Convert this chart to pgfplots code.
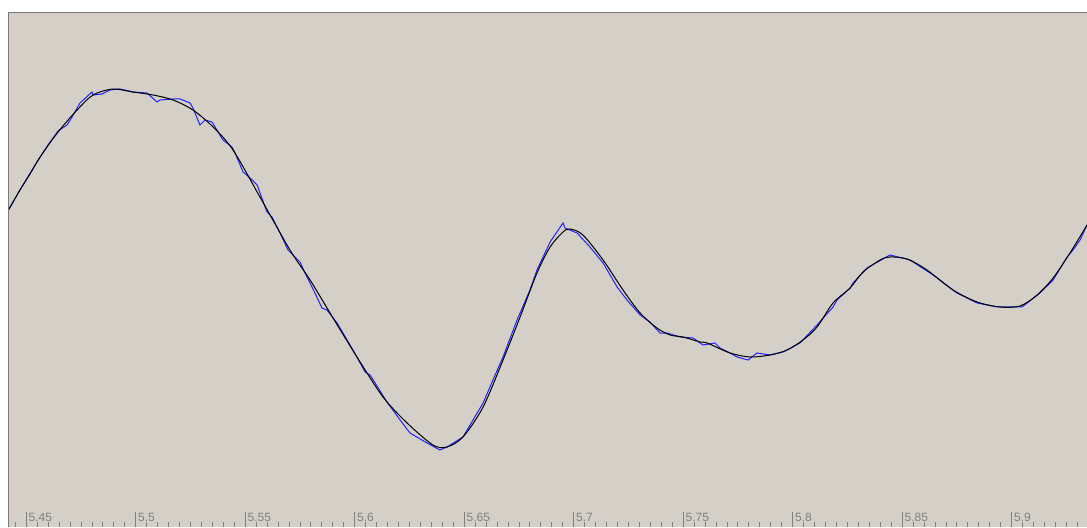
\documentclass[border=0pt]{standalone}
\usepackage{fontspec}
\setmainfont{Liberation Sans}
\usepackage{pgfplots}
\pgfplotsset{compat=1.18}
\definecolor{bgcol}{HTML}{D4D0C8}
\definecolor{tickgray}{HTML}{808080}
\definecolor{bordergray}{HTML}{7A7A7A}
\definecolor{bluel}{HTML}{2020FF}
\begin{document}
\begin{tikzpicture}
\path (0,0) rectangle (815.25pt,395.25pt);
\begin{axis}[
  at={(6pt,0pt)}, anchor=south west,
  scale only axis, width=809.25pt, height=385.5pt,
  xmin=5.44164, xmax=5.93438, ymin=0, ymax=514,
  axis background/.style={fill=bgcol},
  axis line style={draw=none},
  ytick=\empty,
  xtick={5.45,5.5,5.55,5.6,5.65,5.7,5.75,5.8,5.85,5.9},
  xticklabels={5.45,5.5,5.55,5.6,5.65,5.7,5.75,5.8,5.85,5.9},
  minor xtick={5.445,5.450,...,5.935},
  tick align=inside, xtick pos=bottom,
  major tick length=11.25pt, minor tick length=3.75pt,
  major tick style={draw=tickgray, line width=0.75pt},
  minor tick style={draw=tickgray, line width=0.75pt},
  xticklabel style={anchor=base west, inner sep=0pt, xshift=1.6pt, yshift=3.9pt,
    text=tickgray, font=\fontsize{9}{10}\selectfont},
  /pgf/number format/assume math mode=true,
  clip=true,
]
\addplot[bluel, line width=0.75pt] coordinates {
(5.4416,316) (5.4471,337) (5.4540,362) (5.4599,382) (5.4645,396) (5.4686,402)
(5.4709,410) (5.4745,424) (5.4800,435) (5.4805,432) (5.4846,433) (5.4882,437)
(5.4928,438) (5.4987,435) (5.5051,434) (5.5097,425) (5.5111,427) (5.5170,428)
(5.5202,428) (5.5248,424) (5.5261,419) (5.5293,402) (5.5316,407) (5.5348,405)
(5.5362,400) (5.5398,387) (5.5439,380) (5.5453,374) (5.5490,355) (5.5522,349)
(5.5554,342) (5.5599,315) (5.5622,310) (5.5659,294) (5.5695,277) (5.5750,265)
(5.5773,254) (5.5818,234) (5.5850,219) (5.5873,217) (5.5919,204) (5.5946,194)
(5.5992,177) (5.6047,155) (5.6070,152) (5.6147,125) (5.6207,107) (5.6252,94)
(5.6330,84) (5.6389,77) (5.6421,80) (5.6494,90) (5.6586,124) (5.6631,147)
(5.6677,170) (5.6741,207) (5.6755,214) (5.6800,237) (5.6832,257) (5.6892,285)
(5.6951,304) (5.6960,299) (5.7015,294) (5.7074,280) (5.7134,264) (5.7198,240)
(5.7243,227) (5.7303,212) (5.7348,205) (5.7394,194) (5.7426,194) (5.7485,190)
(5.7545,189) (5.7590,182) (5.7645,184) (5.7668,179) (5.7714,174) (5.7746,170)
(5.7796,167) (5.7837,174) (5.7896,172) (5.7956,175) (5.8033,184) (5.8111,202)
(5.8184,220) (5.8202,227) (5.8262,239) (5.8275,244) (5.8339,259) (5.8444,272)
(5.8536,267) (5.8641,252) (5.8750,234) (5.8842,224) (5.8933,220) (5.9047,220)
(5.9129,234) (5.9189,247) (5.9253,270) (5.9280,277) (5.9312,287) (5.9344,302)
};
\addplot[black, line width=0.75pt, smooth, tension=0.5] coordinates {
(5.4416,316) (5.4471,337) (5.4517,353) (5.4563,370) (5.4645,395) (5.4732,417)
(5.4805,432) (5.4896,438) (5.4987,435) (5.5079,432) (5.5170,427) (5.5261,417)
(5.5353,400) (5.5444,377) (5.5567,330) (5.5704,277) (5.5796,247) (5.5887,214)
(5.6010,170) (5.6129,130) (5.6239,104) (5.6357,82) (5.6421,80) (5.6494,90)
(5.6586,120) (5.6677,167) (5.6755,210) (5.6832,254) (5.6892,280) (5.6951,295)
(5.6983,298) (5.7042,292) (5.7134,267) (5.7225,237) (5.7303,214) (5.7380,199)
(5.7440,192) (5.7499,190) (5.7577,185) (5.7609,184) (5.7714,174) (5.7805,170)
(5.7896,172) (5.7974,177) (5.8047,187) (5.8111,200) (5.8184,224) (5.8262,239)
(5.8321,255) (5.8399,267) (5.8444,270) (5.8522,268) (5.8613,257) (5.8732,237)
(5.8842,225) (5.8947,220) (5.9038,221) (5.9116,232) (5.9189,249) (5.9266,274)
(5.9344,302)
};
\draw[bordergray, line width=0.75pt] (rel axis cs:0,0) -- (rel axis cs:0,1) -- (rel axis cs:1,1);
\end{axis}
\end{tikzpicture}
\end{document}
